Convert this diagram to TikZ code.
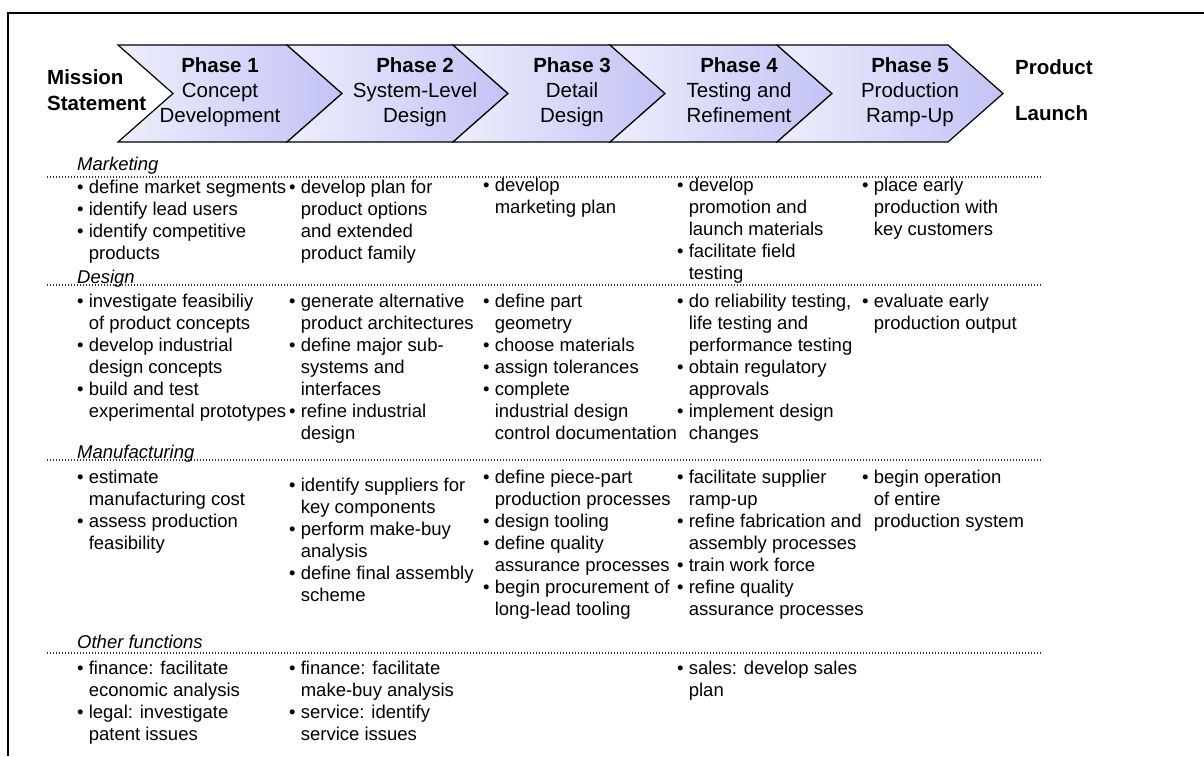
\documentclass[tikz,border=0pt]{standalone}
\usepackage{fontspec}
\setmainfont{Liberation Sans}

\definecolor{chevlight}{RGB}{238,238,252}
\definecolor{chevdark}{RGB}{194,194,246}

% bullet line and its continuation line
\newcommand{\bul}[1]{\strut\textbullet\ #1}
\newcommand{\ctd}[1]{\strut\phantom{\textbullet\ }#1}

\tikzset{
  chev/.style={left color=chevlight, right color=chevdark, draw=black, line width=1.2pt},
  phasetext/.style={font=\fontsize{20.5}{25}\selectfont, align=center, inner sep=0pt},
  celltext/.style={font=\fontsize{18.5}{22}\selectfont, align=left, inner sep=0pt, anchor=north west},
  rowlabel/.style={font=\fontsize{18.5}{22}\selectfont\itshape, inner sep=0pt, anchor=west},
  rowline/.style={line width=1.1pt, dash pattern=on 1.1pt off 1.9pt, black!80}
}

\begin{document}
\begin{tikzpicture}[x=1pt,y=-1pt]

	\useasboundingbox (0,0) rectangle (1204,756);
	\draw[line width=1.5pt] (8,756) -- (8,13) -- (1204,13);

	% the five phase arrows
	\foreach \xl/\xr in {118/287, 287/453, 453/610, 610/777, 777/948}
	    \shadedraw[chev] (\xl,45) -- (\xr,45) -- ++(55,48.5) -- (\xr,142) -- (\xl,142) -- ++(55,-48.5) -- cycle;

	\node (mission) at (47,90) [anchor=west, inner sep=0pt, align=left,
	      font=\fontsize{20.5}{26}\selectfont\bfseries] {Mission\\Statement};
	\node (ph1) at (220,92) [phasetext] {\textbf{Phase 1}\strut\\Concept\strut\\Development\strut};
	\node (ph2) at (415,92) [phasetext] {\textbf{Phase 2}\strut\\System-Level\strut\\Design\strut};
	\node (ph3) at (572,92) [phasetext] {\textbf{Phase 3}\strut\\Detail\strut\\Design\strut};
	\node (ph4) at (739,92) [phasetext] {\textbf{Phase 4}\strut\\Testing and\strut\\Refinement\strut};
	\node (ph5) at (910,92) [phasetext] {\textbf{Phase 5}\strut\\Production\strut\\Ramp-Up\strut};
	\node (product) at (1015,67) [anchor=west, inner sep=0pt, font=\fontsize{20.5}{25}\selectfont\bfseries] {Product};
	\node (launch) at (1015,113) [anchor=west, inner sep=0pt, font=\fontsize{20.5}{25}\selectfont\bfseries] {Launch};

	% separators
	\draw[rowline] (47,177) -- (1041,177);
	\draw[rowline] (47,285) -- (1041,285);
	\draw[rowline] (47,460) -- (1041,460);
	\draw[rowline] (47,653) -- (1041,653);

	% Marketing
	\node (mkt) at (77,166) [rowlabel] {Marketing};
	\node (mk1) at (77,178) [celltext] {\bul{define market segments}\\\bul{identify lead users}\\\bul{identify competitive}\\\ctd{products}};
	\node (mk2) at (289,178) [celltext] {\bul{develop plan for}\\\ctd{product options}\\\ctd{and extended}\\\ctd{product family}};
	\node (mk3) at (483,176) [celltext] {\bul{develop}\\\ctd{marketing plan}};
	\node (mk4) at (677,176) [celltext] {\bul{develop}\\\ctd{promotion and}\\\ctd{launch materials}\\\bul{facilitate field}\\\ctd{testing}};
	\node (mk5) at (862,176) [celltext] {\bul{place early}\\\ctd{production with}\\\ctd{key customers}};

	% Design
	\node (des) at (77,279) [rowlabel] {Design};
	\node (ds1) at (77,292) [celltext] {\bul{investigate feasibiliy}\\\ctd{of product concepts}\\\bul{develop industrial}\\\ctd{design concepts}\\\bul{build and test}\\\ctd{experimental prototypes}};
	\node (ds2) at (289,292) [celltext] {\bul{generate alternative}\\\ctd{product architectures}\\\bul{define major sub-}\\\ctd{systems and}\\\ctd{interfaces}\\\bul{refine industrial}\\\ctd{design}};
	\node (ds3) at (483,292) [celltext] {\bul{define part}\\\ctd{geometry}\\\bul{choose materials}\\\bul{assign tolerances}\\\bul{complete}\\\ctd{industrial design}\\\ctd{control documentation}};
	\node (ds4) at (677,292) [celltext] {\bul{do reliability testing,}\\\ctd{life testing and}\\\ctd{performance testing}\\\bul{obtain regulatory}\\\ctd{approvals}\\\bul{implement design}\\\ctd{changes}};
	\node (ds5) at (862,292) [celltext] {\bul{evaluate early}\\\ctd{production output}};

	% Manufacturing
	\node (man) at (77,454) [rowlabel] {Manufacturing};
	\node (mf1) at (77,468) [celltext] {\bul{estimate}\\\ctd{manufacturing cost}\\\bul{assess production}\\\ctd{feasibility}};
	\node (mf2) at (289,476) [celltext] {\bul{identify suppliers for}\\\ctd{key components}\\\bul{perform make-buy}\\\ctd{analysis}\\\bul{define final assembly}\\\ctd{scheme}};
	\node (mf3) at (483,468) [celltext] {\bul{define piece-part}\\\ctd{production processes}\\\bul{design tooling}\\\bul{define quality}\\\ctd{assurance processes}\\\bul{begin procurement of}\\\ctd{long-lead tooling}};
	\node (mf4) at (677,468) [celltext] {\bul{facilitate supplier}\\\ctd{ramp-up}\\\bul{refine fabrication and}\\\ctd{assembly processes}\\\bul{train work force}\\\bul{refine quality}\\\ctd{assurance processes}};
	\node (mf5) at (862,468) [celltext] {\bul{begin operation}\\\ctd{of entire}\\\ctd{production system}};

	% Other functions
	\node (oth) at (77,642) [rowlabel] {Other functions};
	\node (ot1) at (77,659) [celltext] {\bul{finance: facilitate}\\\ctd{economic analysis}\\\bul{legal: investigate}\\\ctd{patent issues}};
	\node (ot2) at (289,659) [celltext] {\bul{finance: facilitate}\\\ctd{make-buy analysis}\\\bul{service: identify}\\\ctd{service issues}};
	\node (ot4) at (677,659) [celltext] {\bul{sales: develop sales}\\\ctd{plan}};

\end{tikzpicture}
\end{document}
